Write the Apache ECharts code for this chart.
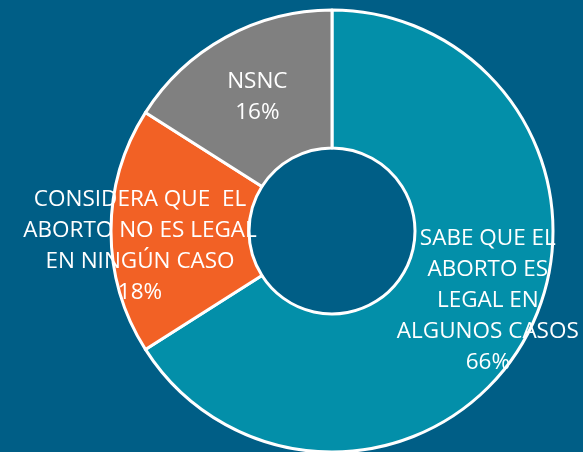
<!DOCTYPE html>
<html>
<head>
<meta charset="utf-8">
<script src="https://cdn.jsdelivr.net/npm/echarts@6/dist/echarts.min.js"></script>
<style>
  html, body { margin: 0; padding: 0; background: #005e86; }
  #chart { width: 583px; height: 452px; }
</style>
</head>
<body>
<div id="chart"></div>
<script>
// categorías y porcentajes
const categorias = [
    'SABE QUE EL\nABORTO ES\nLEGAL EN\nALGUNOS CASOS',
    'CONSIDERA QUE  EL\nABORTO NO ES LEGAL\nEN NINGÚN CASO',
    'NSNC'
];
const porcentajes = [66, 18, 16];
const colores = ['#038fa9', '#f26125', '#808080'];
// desplazamiento de etiquetas respecto a la posición "inside"
const ajusteEtiquetas = [[20, -5], [-37, 15], [0, 2]];

const myChart = echarts.init(document.getElementById('chart'));

const datos = [];
for (let i = 0; i < categorias.length; i++) {
    datos.push({
        name: categorias[i],
        value: porcentajes[i],
        itemStyle: { color: colores[i] }
    });
}

const options = {
    backgroundColor: '#005e86',
    animation: false,
    series: [
        {
            type: 'pie',
            center: [332, 231],
            radius: [83, 221],
            startAngle: 90,
            clockwise: true,
            itemStyle: {
                borderColor: '#ffffff',
                borderWidth: 3
            },
            label: {
                show: true,
                position: 'inside',
                formatter: '{b}\n{c}%',
                color: '#ffffff',
                fontFamily: 'Open Sans',
                fontSize: 22.5,
                lineHeight: 31,
                align: 'center',
                textBorderWidth: 0
            },
            labelLine: { show: false },
            labelLayout: function (params) {
                const a = ajusteEtiquetas[params.dataIndex];
                return { dx: a[0], dy: a[1] };
            },
            emphasis: { disabled: true },
            data: datos
        }
    ]
};

myChart.setOption(options);
</script>
</body>
</html>
